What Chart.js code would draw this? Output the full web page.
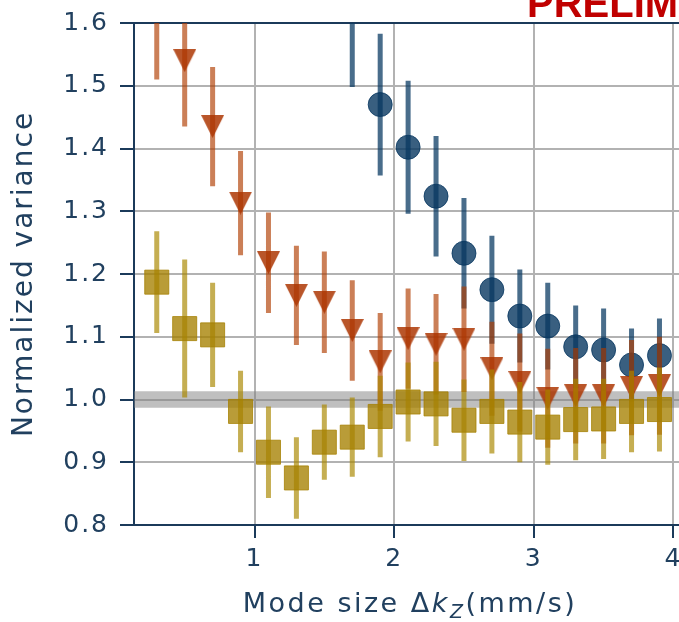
<!DOCTYPE html>
<html>
<head>
<meta charset="utf-8">
<script src="https://cdn.jsdelivr.net/npm/chart.js@4"></script>
<style>
  html, body { margin: 0; padding: 0; overflow: hidden; background: #fff; }
  #wrap { position: absolute; left: 0; top: 0; width: 686px; height: 622px; }
</style>
</head>
<body>
<div id="wrap"><canvas id="myChart" width="686" height="622"></canvas></div>
<script>
// mode sizes (mm/s)
const modeSize = [0.3, 0.5, 0.7, 0.9, 1.1, 1.3, 1.5, 1.7, 1.9, 2.1, 2.3, 2.5, 2.7, 2.9, 3.1, 3.3, 3.5, 3.7, 3.9];

// blue circles only start at 1.7
const blueX   = [1.7, 1.9, 2.1, 2.3, 2.5, 2.7, 2.9, 3.1, 3.3, 3.5, 3.7, 3.9];
const blueY   = [1.625, 1.470, 1.402, 1.324, 1.233, 1.175, 1.133, 1.117, 1.084, 1.079, 1.055, 1.070];
const blueErr = [0.127, 0.113, 0.106, 0.096, 0.088, 0.086, 0.074, 0.069, 0.066, 0.066, 0.058, 0.059];

const orangeY   = [1.630, 1.540, 1.435, 1.313, 1.218, 1.166, 1.155, 1.110, 1.060, 1.097, 1.088, 1.096, 1.049, 1.027, 1.002, 1.006, 1.006, 1.019, 1.022];
const orangeErr = [0.120, 0.105, 0.095, 0.083, 0.080, 0.079, 0.081, 0.080, 0.078, 0.080, 0.080, 0.084, 0.075, 0.078, 0.079, 0.076, 0.076, 0.076, 0.078];

const oliveY   = [1.187, 1.113, 1.103, 0.981, 0.916, 0.875, 0.932, 0.940, 0.973, 0.996, 0.993, 0.967, 0.981, 0.964, 0.956, 0.968, 0.969, 0.981, 0.984];
const oliveErr = [0.081, 0.110, 0.083, 0.065, 0.073, 0.065, 0.060, 0.063, 0.065, 0.063, 0.067, 0.065, 0.067, 0.064, 0.060, 0.065, 0.064, 0.065, 0.067];

// reference band around 1
const bandLow = 0.987;
const bandHigh = 1.013;

const xTicks = [1, 2, 3, 4];
const yTicks = [0.8, 0.9, 1.0, 1.1, 1.2, 1.3, 1.4, 1.5, 1.6];
const xMin = 0.137, xMax = 4.09;

const ink = '#21405f';
const spine = '#1b3a5a';
const gridGray = '#b2b2b2';
const fontFamily = '"DejaVu Sans", sans-serif';

function points(xs, ys) {
    return xs.map((x, i) => ({ x: x, y: ys[i] }));
}

// vertical error segments, separated by gaps
function errorSegments(xs, ys, errs) {
    const out = [];
    xs.forEach((x, i) => {
        out.push({ x: x, y: ys[i] - errs[i] });
        out.push({ x: x, y: ys[i] + errs[i] });
        out.push({ x: x, y: null });
    });
    return out;
}

// matplotlib style 'v' marker
function downTriangle(size, fill) {
    const c = document.createElement('canvas');
    c.width = size; c.height = size;
    const g = c.getContext('2d');
    g.fillStyle = fill;
    g.beginPath();
    g.moveTo(0, 0);
    g.lineTo(size, 0);
    g.lineTo(size / 2, size);
    g.closePath();
    g.fill();
    return c;
}

function errorDataset(data, color, order) {
    return {
        type: 'line', data: data, borderColor: color, borderWidth: 5,
        borderCapStyle: 'butt', pointRadius: 0, spanGaps: false,
        fill: false, tension: 0, order: order
    };
}

function noPadding(s) {
    s.paddingLeft = 0; s.paddingRight = 0; s.paddingTop = 0; s.paddingBottom = 0;
}

// wide spacing for the tick labels
const spacing = {
    id: 'spacing',
    beforeDraw(chart) { chart.ctx.letterSpacing = '2px'; }
};

const annotate = {
    id: 'annotate',
    afterDraw(chart) {
        const ctx = chart.ctx;
        const area = chart.chartArea;
        ctx.save();
        ctx.fillStyle = ink;
        ctx.textBaseline = 'alphabetic';

        // x axis title with italic k and subscript Z
        ctx.letterSpacing = '2.5px';
        const parts = [
            { t: 'Mode size Δ', f: '27px ' + fontFamily, dy: 0 },
            { t: 'k', f: 'italic 27px ' + fontFamily, dy: 0 },
            { t: 'Z', f: 'italic 19px ' + fontFamily, dy: 6 },
            { t: '(mm/s)', f: '27px ' + fontFamily, dy: 0 }
        ];
        let total = 0;
        parts.forEach(p => { ctx.font = p.f; p.w = ctx.measureText(p.t).width; total += p.w; });
        let x = (area.left + area.right) / 2 - total / 2;
        parts.forEach(p => {
            ctx.font = p.f;
            ctx.fillText(p.t, x, 612 + p.dy);
            x += p.w;
        });

        // y axis title
        ctx.letterSpacing = '2px';
        ctx.font = '28px ' + fontFamily;
        ctx.textAlign = 'center';
        ctx.textBaseline = 'middle';
        ctx.translate(25, (area.top + area.bottom) / 2);
        ctx.rotate(-Math.PI / 2);
        ctx.fillText('Normalized variance', 0, 0);
        ctx.restore();

        ctx.save();
        ctx.letterSpacing = '0px';
        ctx.fillStyle = '#c00000';
        ctx.textBaseline = 'alphabetic';
        ctx.font = 'bold 40px "Liberation Sans", Arial, sans-serif';
        ctx.fillText('PRELIMINARY', 527, 16.5);
        ctx.restore();
    }
};

const ctx = document.getElementById('myChart').getContext('2d');
const myChart = new Chart(ctx, {
    type: 'scatter',
    data: {
        datasets: [
            {
                type: 'scatter', data: points(modeSize, oliveY), pointStyle: 'rect', pointRadius: 17,
                backgroundColor: 'rgba(165,128,0,0.78)', borderColor: 'rgba(165,128,0,0.78)', borderWidth: 1, order: 1
            },
            errorDataset(errorSegments(modeSize, oliveY, oliveErr), 'rgba(170,135,0,0.68)', 2),
            {
                type: 'scatter', data: points(modeSize, orangeY), pointStyle: downTriangle(23, 'rgba(172,52,0,0.84)'),
                pointRadius: 11, order: 3
            },
            errorDataset(errorSegments(modeSize, orangeY, orangeErr), 'rgba(176,60,0,0.66)', 4),
            {
                type: 'scatter', data: points(blueX, blueY), pointStyle: 'circle', pointRadius: 12,
                backgroundColor: 'rgba(8,55,96,0.8)', borderColor: 'rgba(8,55,96,0.8)', borderWidth: 1, order: 5
            },
            errorDataset(errorSegments(blueX, blueY, blueErr), 'rgba(10,58,98,0.74)', 6),
            {
                type: 'line', data: [{ x: xMin, y: bandHigh }, { x: xMax, y: bandHigh }],
                borderColor: 'rgba(0,0,0,0)', pointRadius: 0, fill: '+1',
                backgroundColor: 'rgba(128,128,128,0.5)', order: 7
            },
            {
                type: 'line', data: [{ x: xMin, y: bandLow }, { x: xMax, y: bandLow }],
                borderColor: 'rgba(0,0,0,0)', pointRadius: 0, fill: false, order: 8
            }
        ]
    },
    options: {
        responsive: false,
        animation: false,
        events: [],
        devicePixelRatio: 1,
        layout: { autoPadding: false, padding: { top: 23, left: 0, right: 0, bottom: 0 } },
        plugins: { legend: { display: false }, tooltip: { enabled: false } },
        scales: {
            x: {
                type: 'linear', min: xMin, max: xMax, offset: false,
                afterBuildTicks: s => { s.ticks = xTicks.map(v => ({ value: v })); },
                afterFit: s => { s.height = 97; noPadding(s); },
                ticks: { font: { family: fontFamily, size: 25 }, color: ink, padding: 6, autoSkip: false, maxRotation: 0 },
                grid: { color: gridGray, lineWidth: 2, offset: false, tickColor: spine, tickWidth: 2, tickLength: 13 },
                border: { color: spine, width: 2 }
            },
            x2: {
                type: 'linear', position: 'top', min: xMin, max: xMax,
                afterBuildTicks: s => { s.ticks = xTicks.map(v => ({ value: v })); },
                afterFit: s => { s.height = 0; noPadding(s); },
                grid: { display: false },
                ticks: { display: false },
                border: { display: true, color: spine, width: 2 }
            },
            y: {
                type: 'linear', min: 0.8, max: 1.6,
                afterBuildTicks: s => { s.ticks = yTicks.map(v => ({ value: v })); },
                afterFit: s => { s.width = 134; noPadding(s); },
                ticks: { callback: v => v.toFixed(1), font: { family: fontFamily, size: 25 }, color: ink, padding: 11, autoSkip: false },
                grid: { color: gridGray, lineWidth: 2, tickColor: spine, tickWidth: 2, tickLength: 14 },
                border: { color: spine, width: 2 },
                title: { display: false }
            }
        }
    },
    plugins: [spacing, annotate]
});
</script>
</body>
</html>
